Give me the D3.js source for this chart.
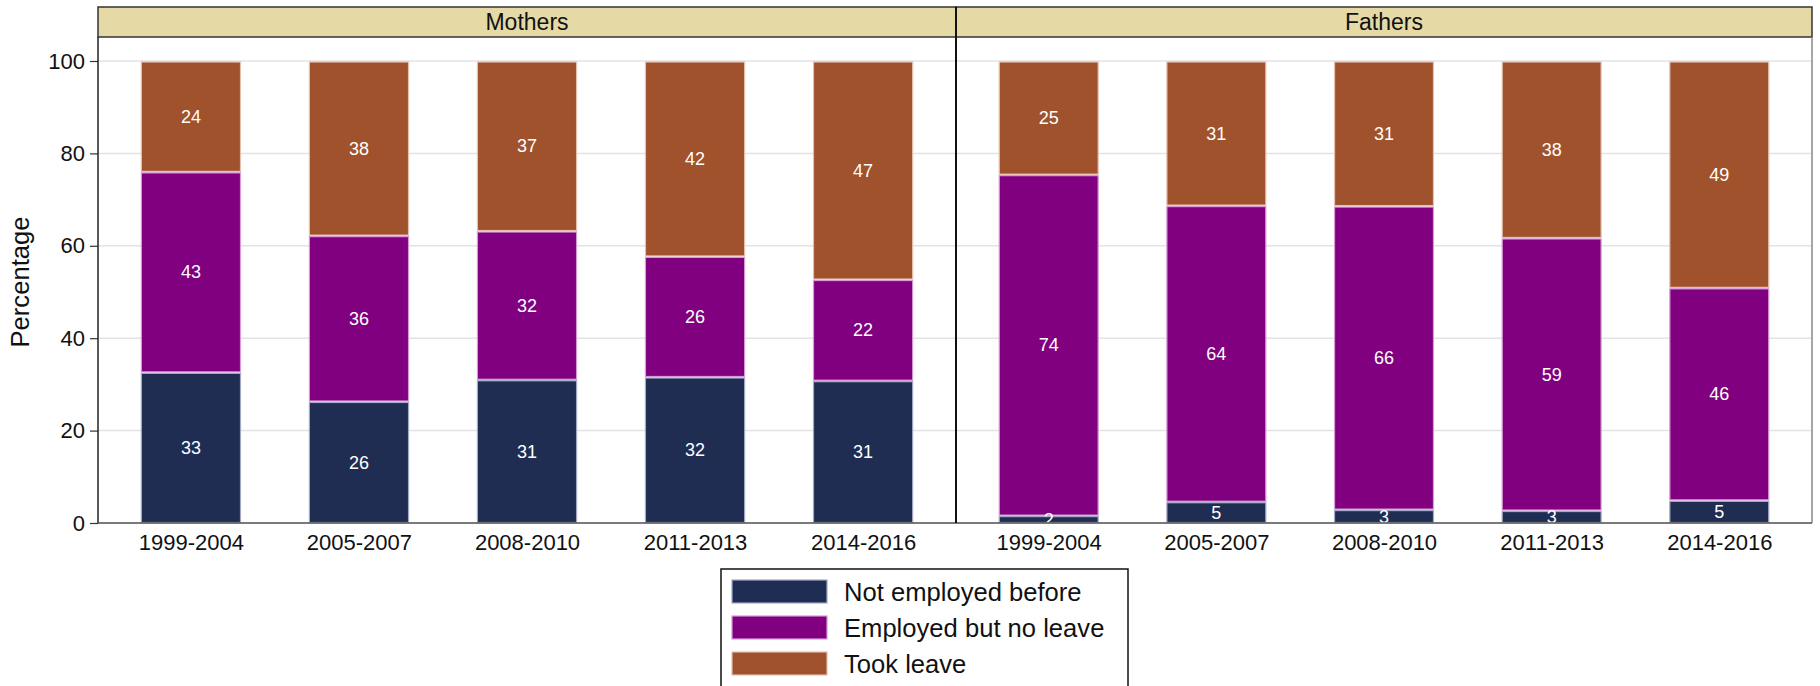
<!DOCTYPE html>
<html>
<head>
<meta charset="utf-8">
<style>
  body { margin: 0; background: #fff; }
  svg { display: block; font-family: "Liberation Sans", Arial, Helvetica, sans-serif; }
</style>
<script src="https://d3js.org/d3.v7.min.js"></script>
</head>
<body>
<svg width="1820" height="686"></svg>
<script>
// data
var periods = ["1999-2004", "2005-2007", "2008-2010", "2011-2013", "2014-2016"];
var panels = ["Mothers", "Fathers"];
var seriesNames = ["Not employed before", "Employed but no leave", "Took leave"];
var seriesColors = ["#1f2d53", "#800080", "#a0522d"];
var seriesOutlines = ["#a3a9c2", "#d79ad7", "#e6bfae"];
var yTicks = [0, 20, 40, 60, 80, 100];

var mothersNotEmployed = [32.6, 26.3, 31.0, 31.6, 30.8];
var mothersNoLeave     = [43.4, 35.9, 32.2, 26.1, 21.9];
var mothersTookLeave   = [24.0, 37.8, 36.8, 42.3, 47.3];

var fathersNotEmployed = [1.6, 4.6, 2.9, 2.7, 4.9];
var fathersNoLeave     = [73.8, 64.1, 65.7, 59.0, 46.0];
var fathersTookLeave   = [24.6, 31.3, 31.4, 38.3, 49.1];

var panelData = [
  [mothersNotEmployed, mothersNoLeave, mothersTookLeave],
  [fathersNotEmployed, fathersNoLeave, fathersTookLeave]
];

function draw() {
  var svg = d3.select("svg");
  var left = 98, right = 1812, mid = 956,
      stripTop = 7, plotTop = 37, plotBottom = 523;
  var panelX = [[left, mid], [mid, right]];

  var y = d3.scaleLinear().domain([0, 100]).range([plotBottom, 61]);

  // header strips
  panels.forEach(function(p, i) {
    svg.append("rect")
      .attr("x", panelX[i][0]).attr("y", stripTop)
      .attr("width", panelX[i][1] - panelX[i][0]).attr("height", plotTop - stripTop)
      .attr("fill", "#e5d9a6").attr("stroke", "#333").attr("stroke-width", 1.5);
    svg.append("text")
      .attr("x", (panelX[i][0] + panelX[i][1]) / 2).attr("y", 29.5)
      .attr("text-anchor", "middle").attr("font-size", 23).attr("fill", "#111")
      .text(p);
  });

  var defs = svg.append("defs");

  panels.forEach(function(p, i) {
    var x0 = panelX[i][0], x1 = panelX[i][1];
    var x = d3.scalePoint().domain(periods).range([x0, x1]).padding(0.553);
    var bw = x.step() * 0.59;

    defs.append("clipPath").attr("id", "clip" + i)
      .append("rect").attr("x", x0).attr("y", plotTop)
      .attr("width", x1 - x0).attr("height", plotBottom - plotTop);

    var g = svg.append("g");

    // gridlines
    g.selectAll(".grid").data(yTicks).enter().append("line")
      .attr("x1", x0).attr("x2", x1)
      .attr("y1", function(d) { return y(d); }).attr("y2", function(d) { return y(d); })
      .attr("stroke", "#e3e3e3").attr("stroke-width", 1.5);

    var rows = periods.map(function(per, k) {
      var r = { period: per };
      seriesNames.forEach(function(s, j) { r[s] = panelData[i][j][k]; });
      return r;
    });
    var stacked = d3.stack().keys(seriesNames)(rows);

    var layers = g.selectAll(".layer").data(stacked).enter().append("g")
      .attr("fill", function(d, j) { return seriesColors[j]; })
      .attr("stroke", function(d, j) { return seriesOutlines[j]; })
      .attr("stroke-width", 1.2);

    layers.selectAll("rect").data(function(d) { return d; }).enter().append("rect")
      .attr("x", function(d) { return x(d.data.period) - bw / 2; })
      .attr("width", bw)
      .attr("y", function(d) { return y(d[1]) + 1; })
      .attr("height", function(d) { return Math.max(0, y(d[0]) - y(d[1]) - 1.5); });

    var lab = svg.append("g").attr("clip-path", "url(#clip" + i + ")");
    stacked.forEach(function(layer) {
      lab.selectAll(null).data(layer).enter().append("text")
        .attr("x", function(d) { return x(d.data.period); })
        .attr("y", function(d) { return y((d[0] + d[1]) / 2); })
        .attr("dy", "0.35em")
        .attr("text-anchor", "middle").attr("font-size", 18).attr("fill", "#fff")
        .text(function(d) { return d3.format(".0f")(d[1] - d[0]); });
    });

    // x axis labels
    var xa = svg.append("g")
      .attr("transform", "translate(0," + plotBottom + ")")
      .call(d3.axisBottom(x).tickSize(0).tickPadding(11));
    xa.select(".domain").remove();
    xa.selectAll("text").attr("font-size", 22).attr("fill", "#111")
      .attr("font-family", "Liberation Sans, Arial, sans-serif");
  });

  // y axis
  var ya = svg.append("g")
    .attr("transform", "translate(" + left + ",0)")
    .call(d3.axisLeft(y).tickValues(yTicks).tickSize(8).tickPadding(5));
  ya.select(".domain").remove();
  ya.selectAll("line").attr("stroke", "#333").attr("stroke-width", 1.2);
  ya.selectAll("text").attr("font-size", 22).attr("fill", "#111")
    .attr("font-family", "Liberation Sans, Arial, sans-serif");

  // frame lines
  svg.append("line").attr("x1", left).attr("x2", left).attr("y1", plotTop).attr("y2", plotBottom)
    .attr("stroke", "#222").attr("stroke-width", 1.5);
  svg.append("line").attr("x1", right).attr("x2", right).attr("y1", plotTop).attr("y2", plotBottom)
    .attr("stroke", "#888").attr("stroke-width", 1.5);
  svg.append("line").attr("x1", left).attr("x2", right).attr("y1", plotBottom).attr("y2", plotBottom)
    .attr("stroke", "#555").attr("stroke-width", 1.5);
  svg.append("line").attr("x1", mid).attr("x2", mid).attr("y1", stripTop).attr("y2", plotBottom)
    .attr("stroke", "#111").attr("stroke-width", 2);

  // y title
  svg.append("text")
    .attr("transform", "translate(29,282) rotate(-90)")
    .attr("text-anchor", "middle").attr("font-size", 25.6).attr("fill", "#111")
    .text("Percentage");

  // legend
  var lg = svg.append("g");
  lg.append("rect").attr("x", 721).attr("y", 569).attr("width", 407).attr("height", 130)
    .attr("fill", "#fff").attr("stroke", "#111").attr("stroke-width", 1.5);
  seriesNames.forEach(function(s, j) {
    var yy = 580 + j * 36;
    lg.append("rect").attr("x", 732).attr("y", yy).attr("width", 95).attr("height", 23)
      .attr("fill", seriesColors[j]).attr("stroke", seriesOutlines[j]).attr("stroke-width", 1.2);
    lg.append("text").attr("x", 844).attr("y", yy + 12).attr("dy", "0.35em")
      .attr("font-size", 25.6).attr("fill", "#111").text(s);
  });
}

draw();
</script>
</body>
</html>
